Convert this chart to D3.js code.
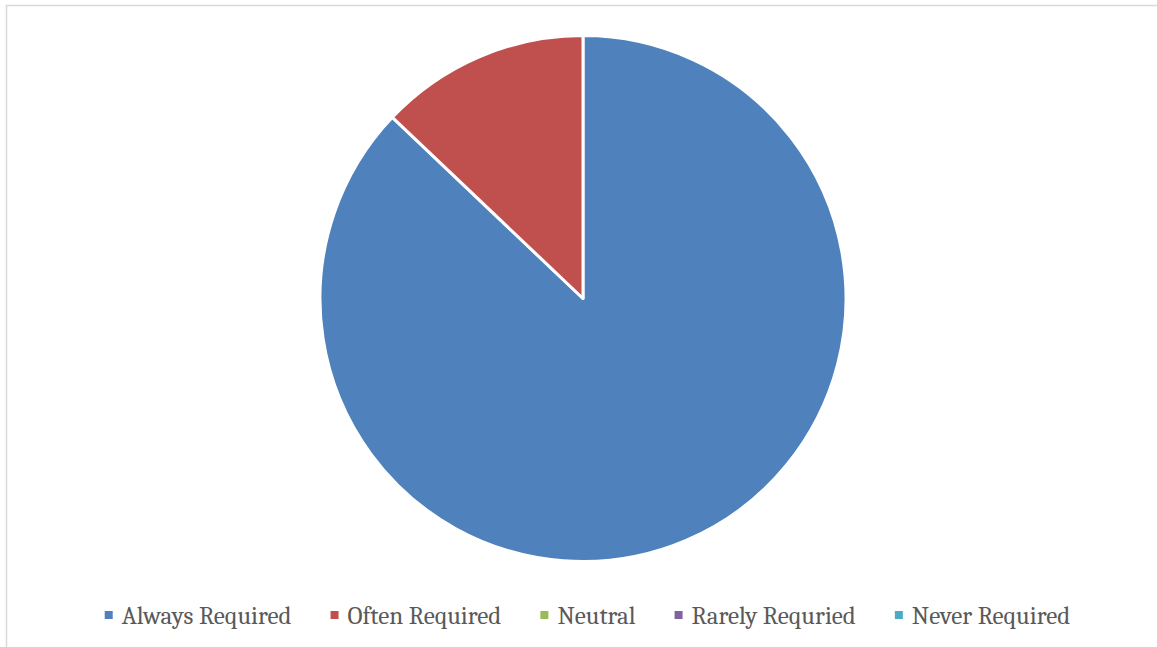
<!DOCTYPE html>
<html>
<head>
<meta charset="utf-8">
<script src="https://cdn.jsdelivr.net/npm/d3@7"></script>
<style>
  html, body { margin: 0; padding: 0; background: #ffffff; }
  svg { display: block; }
</style>
</head>
<body>
<svg id="chart" width="1157" height="647"></svg>
<script>
const categories = ["Always Required", "Often Required", "Neutral", "Rarely Requried", "Never Required"];
const values = [27, 4, 0, 0, 0];
const colors = ["#4f81bd", "#c0504d", "#9bbb59", "#8064a2", "#4bacc6"];

const W = 1157, H = 647;
const svg = d3.select("#chart");

// chart border
svg.append("rect")
  .attr("x", 6.5).attr("y", 5.5)
  .attr("width", 1160).attr("height", 660)
  .attr("fill", "#ffffff")
  .attr("stroke", "#d9d9d9")
  .attr("stroke-width", 1.5);

const cx = 583, cy = 298.5, R = 263;
const data = categories.map((c, i) => ({ name: c, value: values[i], color: colors[i] }));

const pie = d3.pie().sort(null).value(d => d.value);
const arc = d3.arc().innerRadius(0).outerRadius(R);

svg.append("g")
  .attr("transform", `translate(${cx},${cy})`)
  .selectAll("path")
  .data(pie(data).filter(d => d.data.value > 0))
  .join("path")
  .attr("d", arc)
  .attr("fill", d => d.data.color)
  .attr("stroke", "#ffffff")
  .attr("stroke-width", 3)
  .attr("stroke-linejoin", "round");

// legend
const fontFamily = "Cambria, 'Liberation Serif', 'DejaVu Serif', serif";
const legend = svg.append("g");
const targetTotalText = 725; // summed label width in reference
let sum20 = 0;
categories.forEach(c => {
  const p = legend.append("text")
    .attr("font-family", fontFamily).attr("font-size", 20).text(c);
  sum20 += p.node().getComputedTextLength();
  p.remove();
});
const fs = 20 * targetTotalText / sum20;

const markerSize = 8, markerGap = 9, itemGap = 39;
const items = legend.selectAll("g.item")
  .data(data)
  .join("g").attr("class", "item");
items.append("rect")
  .attr("width", markerSize).attr("height", markerSize)
  .attr("y", -markerSize / 2)
  .attr("fill", d => d.color);
items.append("text")
  .attr("x", markerSize + markerGap)
  .attr("y", 0)
  .attr("dy", "0.35em")
  .attr("font-family", fontFamily)
  .attr("font-size", fs)
  .attr("fill", "#595959")
  .text(d => d.name);

const widths = [];
items.each(function () {
  const t = d3.select(this).select("text").node().getComputedTextLength();
  widths.push(markerSize + markerGap + t);
});
const total = d3.sum(widths) + itemGap * (widths.length - 1);
let startX = 587.5 - total / 2;
items.attr("transform", (d, i) => {
  const tx = startX;
  startX += widths[i] + itemGap;
  return `translate(${tx},615)`;
});
</script>
</body>
</html>
